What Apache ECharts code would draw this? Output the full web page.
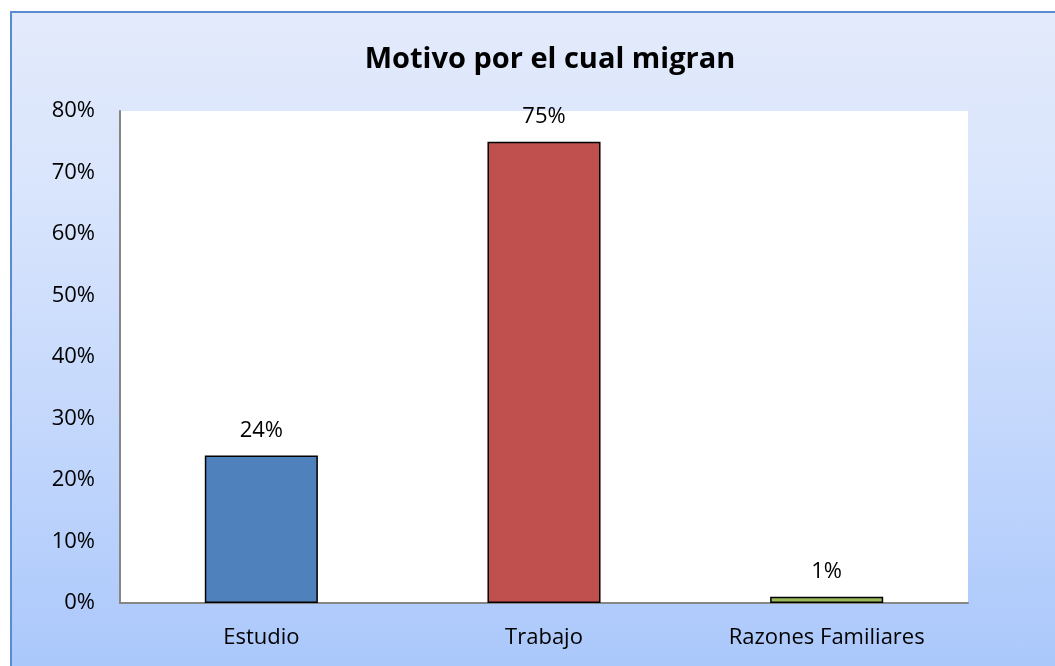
<!doctype html>
<html>
<head>
<meta charset="utf-8">
<title>Motivo por el cual migran</title>
<script src="https://cdn.jsdelivr.net/npm/echarts@6/dist/echarts.min.js"></script>
<style>
    html,body{
        margin: 0;
        padding: 0;
        width: 100%;
        height: 100%;
        background: #fff;
        overflow: hidden;
    }
    .chart-frame{
        position: absolute;
        left: 10px;
        top: 11px;
        width: 1100px;
        height: 700px;
        border: 2px solid #5b8bcf;
        background: linear-gradient(to bottom, #e3eafb 0%, #d9e5fc 25%, #c3d7fc 60%, #a6c5fb 100%);
    }
    #bar_chart{
        position: absolute;
        left: 0;
        top: 0;
        width: 1055px;
        height: 666px;
    }
</style>
</head>
<body>
    <div class="chart-frame"></div>
    <div id="bar_chart"></div>
<script>
    var categories = ['Estudio', 'Trabajo', 'Razones Familiares'];
    var values = [24, 75, 1];
    var yTicks = [0, 10, 20, 30, 40, 50, 60, 70, 80];

    var palette = ['#4f81bd', '#c0504d', '#9bbb59'];
    var font = '"Open Sans", "Noto Sans", sans-serif';

    var bar_chart = echarts.init(document.getElementById('bar_chart'), null, {renderer: 'canvas'});

    var bar_option = {
        backgroundColor: 'transparent',
        animation: false,
        title: {
            text: 'Motivo por el cual migran',
            left: 545,
            top: 40,
            textAlign: 'center',
            textStyle: {
                color: '#000',
                fontSize: 29,
                fontWeight: 'bold',
                fontFamily: font
            }
        },
        grid: {
            left: 120,
            right: 87,
            top: 111,
            bottom: 63,
            show: true,
            backgroundColor: '#fff',
            borderWidth: 0
        },
        xAxis: {
            type: 'category',
            data: categories,
            axisLine: {
                lineStyle: {color: '#868686', width: 2}
            },
            axisTick: {show: false},
            axisLabel: {
                color: '#000',
                fontSize: 22,
                fontFamily: font,
                margin: 24
            }
        },
        yAxis: {
            type: 'value',
            min: yTicks[0],
            max: yTicks[yTicks.length - 1],
            interval: 10,
            axisLine: {
                show: true,
                lineStyle: {color: '#868686', width: 2}
            },
            axisTick: {show: false},
            splitLine: {show: false},
            axisLabel: {
                color: '#000',
                fontSize: 22,
                fontFamily: font,
                margin: 25,
                formatter: '{value}%'
            }
        },
        series: [{
            type: 'bar',
            barWidth: '40%',
            data: values.map(function (v, i) {
                return {value: v, itemStyle: {color: palette[i]}};
            }),
            itemStyle: {
                borderColor: '#000',
                borderWidth: 1.5
            },
            label: {
                show: true,
                position: 'top',
                distance: 14,
                color: '#000',
                fontSize: 22,
                fontFamily: font,
                formatter: '{c}%'
            }
        }]
    };

    bar_chart.setOption(bar_option);
</script>
</body>
</html>
